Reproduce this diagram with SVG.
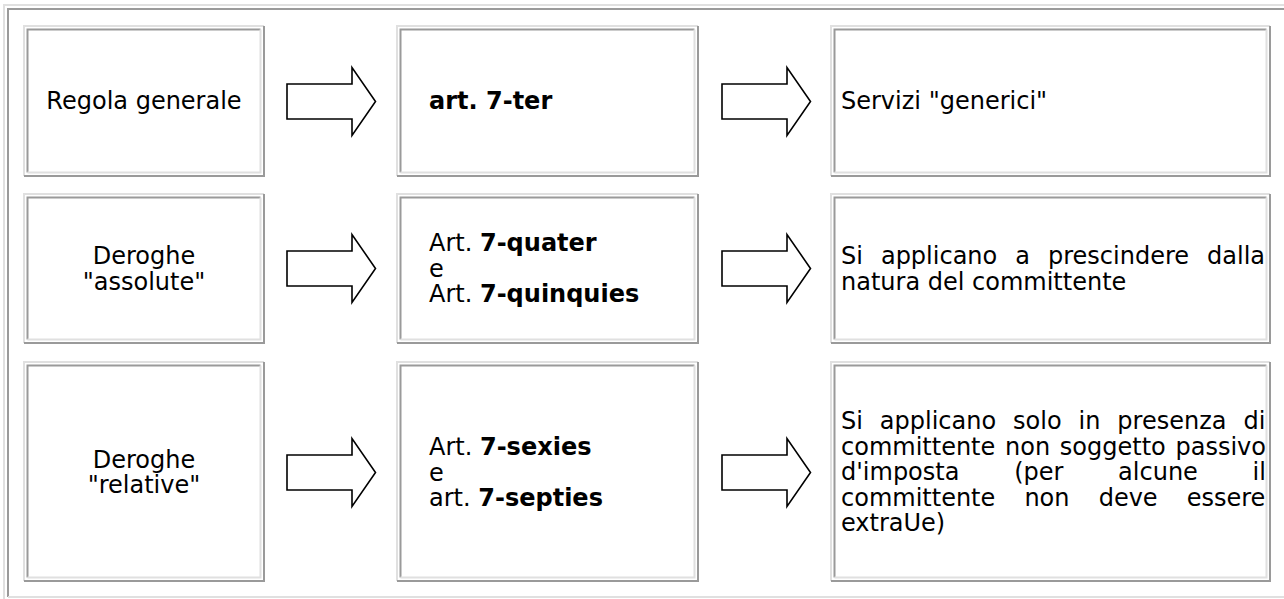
<svg xmlns="http://www.w3.org/2000/svg" width="1284" height="599" viewBox="0 0 1284 599">
<defs>
<style>
.lt{stroke:#e0e0e0;stroke-width:2;fill:none}
.dk{stroke:#9a9a9a;stroke-width:2;fill:none}
.t{font-family:"DejaVu Sans",Verdana,sans-serif;font-size:24px;fill:#000}
.c{text-anchor:middle}
.b{font-weight:bold}
.arr{fill:#fff;stroke:#000;stroke-width:1.6;stroke-linejoin:miter}
</style>
<polygon id="arrow" points="0,-17.5 65,-17.5 65,-34 88.5,0 65,34 65,17.5 0,17.5"/>
</defs>
<rect width="1284" height="599" fill="#fff"/>
<g id="frame">
<path class="lt" d="M4,599 V5 H1284"/>
<path class="dk" d="M8,597 V9 H1284"/>
<path class="lt" d="M8,597 H1284"/>
</g>
<g id="r1c1">
<path class="lt" d="M24,176 V26 H264"/><path class="dk" d="M24,176 H264 V26"/>
<path class="dk" d="M27.5,172.5 V29.5 H260.5"/><path class="lt" d="M27.5,172.5 H260.5 V29.5"/>
<text class="t c" x="144" y="109">Regola generale</text>
</g>
<g id="r1c2">
<path class="lt" d="M397,176 V26 H698"/><path class="dk" d="M397,176 H698 V26"/>
<path class="dk" d="M400.5,172.5 V29.5 H694.5"/><path class="lt" d="M400.5,172.5 H694.5 V29.5"/>
<text class="t b" x="429" y="109">art. 7-ter</text>
</g>
<g id="r1c3">
<path class="lt" d="M831,176 V26 H1270"/><path class="dk" d="M831,176 H1270 V26"/>
<path class="dk" d="M834.5,172.5 V29.5 H1266.5"/><path class="lt" d="M834.5,172.5 H1266.5 V29.5"/>
<text class="t" x="841" y="109">Servizi "generici"</text>
</g>
<g id="r2c1">
<path class="lt" d="M24,343 V194 H264"/><path class="dk" d="M24,343 H264 V194"/>
<path class="dk" d="M27.5,339.5 V197.5 H260.5"/><path class="lt" d="M27.5,339.5 H260.5 V197.5"/>
<text class="t c" x="144" y="264">Deroghe</text>
<text class="t c" x="144" y="289.5">"assolute"</text>
</g>
<g id="r2c2">
<path class="lt" d="M397,343 V194 H698"/><path class="dk" d="M397,343 H698 V194"/>
<path class="dk" d="M400.5,339.5 V197.5 H694.5"/><path class="lt" d="M400.5,339.5 H694.5 V197.5"/>
<text class="t" x="429" y="251">Art. <tspan class="b">7-quater</tspan></text>
<text class="t" x="429" y="276.5">e</text>
<text class="t" x="429" y="302">Art. <tspan class="b">7-quinquies</tspan></text>
</g>
<g id="r2c3">
<path class="lt" d="M831,343 V194 H1270"/><path class="dk" d="M831,343 H1270 V194"/>
<path class="dk" d="M834.5,339.5 V197.5 H1266.5"/><path class="lt" d="M834.5,339.5 H1266.5 V197.5"/>
<text class="t" x="841" y="264" word-spacing="10.4">Si applicano a prescindere dalla</text>
<text class="t" x="841" y="289.5">natura del committente</text>
</g>
<g id="r3c1">
<path class="lt" d="M24,581 V362 H264"/><path class="dk" d="M24,581 H264 V362"/>
<path class="dk" d="M27.5,577.5 V365.5 H260.5"/><path class="lt" d="M27.5,577.5 H260.5 V365.5"/>
<text class="t c" x="144" y="467.5">Deroghe</text>
<text class="t c" x="144" y="493">"relative"</text>
</g>
<g id="r3c2">
<path class="lt" d="M397,581 V362 H698"/><path class="dk" d="M397,581 H698 V362"/>
<path class="dk" d="M400.5,577.5 V365.5 H694.5"/><path class="lt" d="M400.5,577.5 H694.5 V365.5"/>
<text class="t" x="429" y="455">Art. <tspan class="b">7-sexies</tspan></text>
<text class="t" x="429" y="480.5">e</text>
<text class="t" x="429" y="506">art. <tspan class="b">7-septies</tspan></text>
</g>
<g id="r3c3">
<path class="lt" d="M831,581 V362 H1270"/><path class="dk" d="M831,581 H1270 V362"/>
<path class="dk" d="M834.5,577.5 V365.5 H1266.5"/><path class="lt" d="M834.5,577.5 H1266.5 V365.5"/>
<text class="t" x="841" y="429" word-spacing="9.3">Si applicano solo in presenza di</text>
<text class="t" x="841" y="454.5" word-spacing="2.1">committente non soggetto passivo</text>
<text class="t" x="841" y="480" word-spacing="47.1">d'imposta (per alcune il</text>
<text class="t" x="841" y="505.5" word-spacing="21.5">committente non deve essere</text>
<text class="t" x="841" y="531">extraUe)</text>
</g>
<g id="connectors">
<use href="#arrow" class="arr" x="287" y="101.5"/>
<use href="#arrow" class="arr" x="722" y="101.5"/>
<use href="#arrow" class="arr" x="287" y="268.5"/>
<use href="#arrow" class="arr" x="722" y="268.5"/>
<use href="#arrow" class="arr" x="287" y="472.5"/>
<use href="#arrow" class="arr" x="722" y="472.5"/>
</g>
</svg>
